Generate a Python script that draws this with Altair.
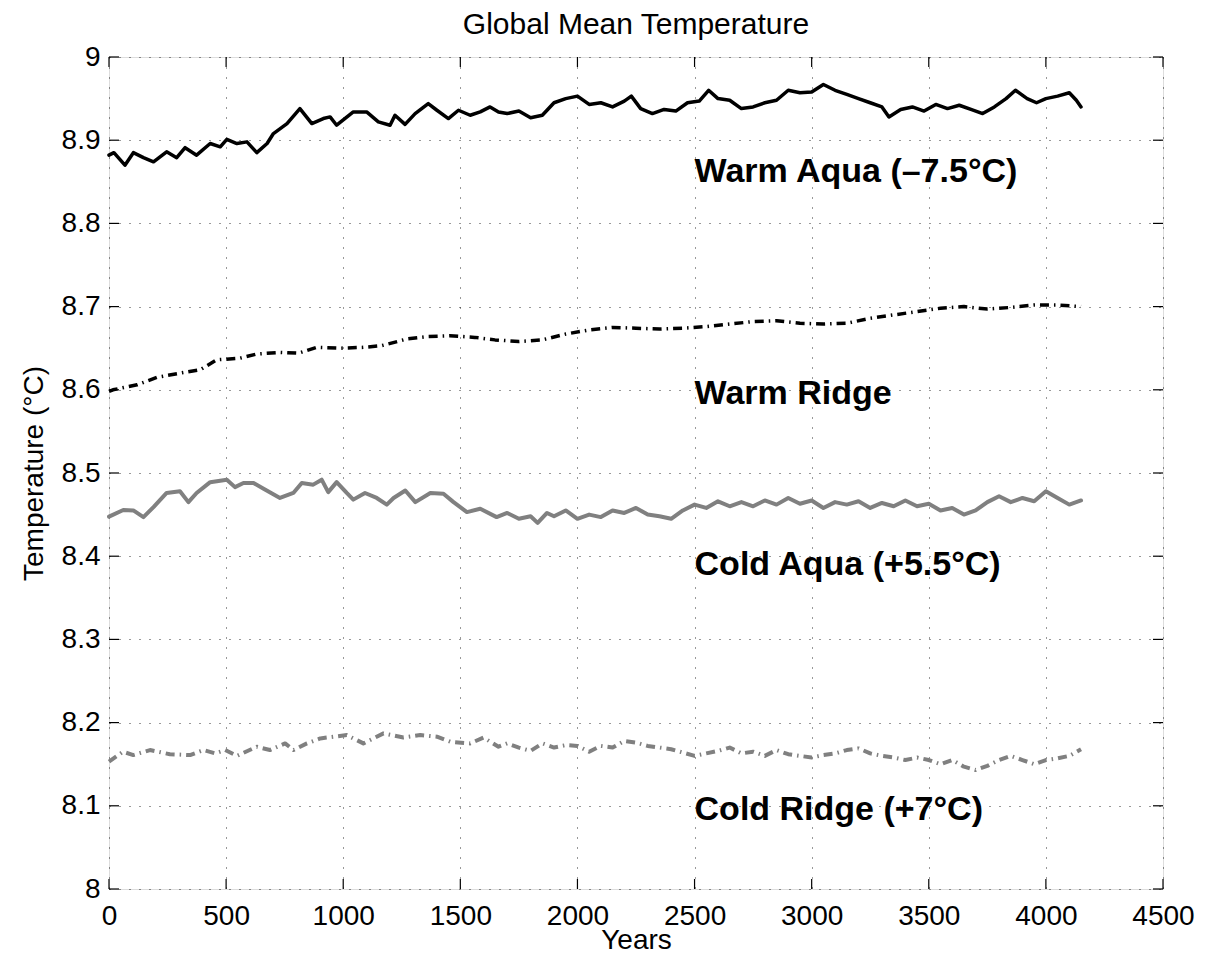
import altair as alt
import pandas as pd

# ---------------- data ----------------
wa_years = [0, 21, 68, 104, 147, 190, 246, 289, 325, 374, 432, 475, 503, 546, 589, 631, 675, 702, 760, 815,
            866, 915, 944, 972, 1043, 1100, 1150, 1200, 1221, 1264, 1307, 1363, 1400, 1449, 1492, 1542, 1585,
            1627, 1663, 1700, 1750, 1800, 1850, 1900, 1950, 2000, 2050, 2100, 2150, 2200, 2230, 2270, 2320,
            2370, 2420, 2470, 2520, 2560, 2600, 2650, 2700, 2750, 2800, 2850, 2900, 2950, 3000, 3050, 3100,
            3150, 3200, 3250, 3300, 3330, 3380, 3430, 3480, 3530, 3580, 3630, 3680, 3730, 3780, 3830, 3870,
            3920, 3960, 4000, 4050, 4100, 4130, 4150]
wa_temp = [8.882, 8.885, 8.870, 8.885, 8.879, 8.874, 8.886, 8.879, 8.891, 8.882, 8.896, 8.892, 8.901, 8.896,
           8.898, 8.885, 8.896, 8.908, 8.920, 8.938, 8.920, 8.926, 8.928, 8.918, 8.934, 8.934, 8.922, 8.918,
           8.930, 8.919, 8.932, 8.944, 8.936, 8.926, 8.936, 8.930, 8.934, 8.940, 8.934, 8.932, 8.935, 8.927,
           8.930, 8.945, 8.950, 8.953, 8.943, 8.945, 8.940, 8.947, 8.953, 8.938, 8.932, 8.937, 8.935, 8.945,
           8.947, 8.960, 8.950, 8.948, 8.938, 8.940, 8.945, 8.948, 8.960, 8.957, 8.958, 8.967, 8.960, 8.955,
           8.950, 8.945, 8.940, 8.928, 8.937, 8.940, 8.935, 8.943, 8.938, 8.942, 8.937, 8.932, 8.940, 8.950,
           8.960, 8.950, 8.945, 8.950, 8.953, 8.957, 8.948, 8.940]

wr_years = [0, 17, 120, 204, 303, 389, 459, 559, 630, 730, 808, 887, 986, 1085, 1164, 1271, 1363, 1455, 1562,
            1648, 1750, 1850, 1950, 2050, 2150, 2250, 2350, 2450, 2550, 2650, 2750, 2850, 2950, 3050, 3150,
            3250, 3350, 3450, 3550, 3650, 3750, 3850, 3950, 4050, 4150]
wr_temp = [8.598, 8.600, 8.606, 8.615, 8.620, 8.624, 8.636, 8.638, 8.643, 8.645, 8.644, 8.651, 8.650, 8.651,
           8.653, 8.661, 8.664, 8.665, 8.663, 8.660, 8.658, 8.660, 8.667, 8.672, 8.675, 8.674, 8.673, 8.674,
           8.676, 8.679, 8.682, 8.683, 8.680, 8.679, 8.680, 8.686, 8.690, 8.694, 8.698, 8.700, 8.697, 8.699,
           8.702, 8.702, 8.700]

ca_years = [0, 61, 104, 147, 190, 246, 303, 339, 374, 432, 503, 538, 574, 617, 660, 730, 787, 823, 872, 908,
            936, 972, 1015, 1043, 1093, 1143, 1186, 1215, 1265, 1308, 1372, 1428, 1471, 1528, 1585, 1655,
            1700, 1750, 1800, 1830, 1870, 1900, 1950, 2000, 2050, 2100, 2150, 2200, 2250, 2300, 2350, 2400,
            2450, 2500, 2550, 2600, 2650, 2700, 2750, 2800, 2850, 2900, 2950, 3000, 3050, 3100, 3150, 3200,
            3250, 3300, 3350, 3400, 3450, 3500, 3550, 3600, 3650, 3700, 3750, 3800, 3850, 3900, 3950, 4000,
            4050, 4100, 4150]
ca_temp = [8.4475, 8.4555, 8.455, 8.447, 8.459, 8.476, 8.478, 8.465, 8.476, 8.489, 8.492, 8.483, 8.488, 8.488,
           8.481, 8.470, 8.476, 8.488, 8.486, 8.492, 8.477, 8.489, 8.476, 8.468, 8.476, 8.470, 8.462, 8.470,
           8.479, 8.465, 8.476, 8.475, 8.465, 8.453, 8.457, 8.447, 8.452, 8.445, 8.448, 8.440, 8.452, 8.448,
           8.455, 8.445, 8.450, 8.447, 8.455, 8.452, 8.458, 8.450, 8.448, 8.445, 8.455, 8.462, 8.458, 8.466,
           8.460, 8.465, 8.460, 8.467, 8.462, 8.470, 8.463, 8.467, 8.458, 8.465, 8.462, 8.466, 8.458, 8.464,
           8.460, 8.467, 8.460, 8.463, 8.455, 8.458, 8.450, 8.455, 8.465, 8.472, 8.465, 8.470, 8.466, 8.478,
           8.470, 8.462, 8.467]

cr_years = [0, 60, 104, 175, 260, 346, 403, 453, 496, 546, 631, 687, 752, 788, 845, 902, 958, 1015, 1086,
            1172, 1257, 1329, 1400, 1457, 1542, 1599, 1663, 1700, 1750, 1800, 1850, 1900, 1950, 2000, 2050,
            2100, 2150, 2200, 2250, 2300, 2350, 2400, 2450, 2500, 2550, 2600, 2650, 2700, 2750, 2800, 2850,
            2900, 2950, 3000, 3050, 3100, 3150, 3200, 3250, 3300, 3350, 3400, 3450, 3500, 3550, 3600, 3650,
            3700, 3750, 3800, 3850, 3900, 3950, 4000, 4050, 4100, 4150]
cr_temp = [8.153, 8.165, 8.161, 8.167, 8.162, 8.161, 8.167, 8.163, 8.167, 8.160, 8.171, 8.167, 8.175, 8.167,
           8.175, 8.181, 8.183, 8.185, 8.175, 8.187, 8.182, 8.185, 8.183, 8.177, 8.175, 8.182, 8.171, 8.175,
           8.170, 8.166, 8.175, 8.170, 8.173, 8.172, 8.165, 8.172, 8.170, 8.178, 8.176, 8.172, 8.170, 8.168,
           8.164, 8.160, 8.163, 8.166, 8.170, 8.163, 8.165, 8.160, 8.167, 8.162, 8.160, 8.158, 8.161, 8.163,
           8.167, 8.169, 8.163, 8.160, 8.158, 8.155, 8.158, 8.155, 8.150, 8.155, 8.147, 8.143, 8.148, 8.155,
           8.160, 8.155, 8.150, 8.155, 8.157, 8.160, 8.168]

label_texts = ["Warm Aqua (\u20137.5\u00b0C)", "Warm Ridge", "Cold Aqua (+5.5\u00b0C)", "Cold Ridge (+7\u00b0C)"]
label_years = [2500, 2500, 2500, 2500]
label_temps = [8.862, 8.595, 8.389, 8.095]

chart_title = "Global Mean Temperature"
x_ticks = [0, 500, 1000, 1500, 2000, 2500, 3000, 3500, 4000, 4500]
y_ticks = [8.0, 8.1, 8.2, 8.3, 8.4, 8.5, 8.6, 8.7, 8.8, 8.9, 9.0]

# ---------------- chart ----------------
W, H = 1054, 832
FONT = "Liberation Sans"
GRAY = "#808080"

xs = alt.Scale(domain=[0, 4500], nice=False, zero=False)
ys = alt.Scale(domain=[8, 9], nice=False, zero=False)

x_axis = alt.Axis(values=x_ticks, grid=True, gridDash=[1, 9], gridColor="#000000", gridOpacity=0.8,
                  domain=False, ticks=False, tickSize=0, labelPadding=13, labelFontSize=28,
                  labelColor="#000000", labelFont=FONT, format="d", title="Years", titleFontSize=28,
                  titleFont=FONT, titleFontWeight="normal", titleColor="#000000",
                  titleBaseline="alphabetic", titleY=59, labelFlush=False, labelOverlap=False)
y_axis = alt.Axis(values=y_ticks, grid=True, gridDash=[1, 9], gridColor="#000000", gridOpacity=0.8,
                  domain=False, ticks=False, tickSize=0, labelPadding=9, labelFontSize=28,
                  labelColor="#000000", labelFont=FONT, format=".1~f", title="Temperature (\u00b0C)",
                  titleFontSize=28, titleFont=FONT, titleFontWeight="normal", titleColor="#000000",
                  titleAngle=270, titleBaseline="alphabetic", titleAlign="center",
                  titleX=-67, titleY=H / 2, labelFlush=False, labelOverlap=False)


def X(field="year"):
    return alt.X(f"{field}:Q", scale=xs, axis=x_axis)


def Y(field="temp"):
    return alt.Y(f"{field}:Q", scale=ys, axis=y_axis)


def line(years, temps, color, width, dash=None):
    kw = dict(color=color, strokeWidth=width, strokeJoin="round")
    if dash is not None:
        kw["strokeDash"] = dash
        kw["strokeCap"] = "butt"
    else:
        kw["strokeCap"] = "round"
    return alt.Chart(pd.DataFrame({"year": years, "temp": temps})).mark_line(**kw).encode(x=X(), y=Y())


xt = pd.DataFrame({"year": x_ticks})
yt = pd.DataFrame({"temp": y_ticks})
TL = 10
ticks = [
    alt.Chart(xt).mark_rule(color="black", strokeWidth=1.2).encode(x=X(), y=alt.value(H), y2=alt.value(H - TL)),
    alt.Chart(xt).mark_rule(color="black", strokeWidth=1.2).encode(x=X(), y=alt.value(0), y2=alt.value(TL)),
    alt.Chart(yt).mark_rule(color="black", strokeWidth=1.2).encode(y=Y(), x=alt.value(0), x2=alt.value(TL)),
    alt.Chart(yt).mark_rule(color="black", strokeWidth=1.2).encode(y=Y(), x=alt.value(W), x2=alt.value(W - TL)),
]

lines = [
    line(wa_years, wa_temp, "#000000", 3.5),
    line(wr_years, wr_temp, "#000000", 3.5, dash=[9, 5, 1.5, 5]),
    line(ca_years, ca_temp, GRAY, 4),
    line(cr_years, cr_temp, GRAY, 4, dash=[9, 5, 1.5, 5]),
]

labels_df = pd.DataFrame({"label": label_texts, "year": label_years, "temp": label_temps})
labels = alt.Chart(labels_df).mark_text(align="left", baseline="middle", fontSize=34, fontWeight="bold",
                                         font=FONT, color="black").encode(x=X(), y=Y(), text="label:N")

chart = alt.layer(*ticks, *lines, labels).properties(
    width=W, height=H,
    title=alt.TitleParams(chart_title, fontSize=30, font=FONT, fontWeight="normal", color="black",
                          anchor="middle", frame="group", offset=3),
    autosize=alt.AutoSizeParams(type="none"),
    padding={"left": 101, "top": 49, "right": 35, "bottom": 67},
).configure_view(stroke="black", strokeWidth=1.5).configure(background="white")

chart.save("out.html", embed_options={"renderer": "svg", "actions": False})
